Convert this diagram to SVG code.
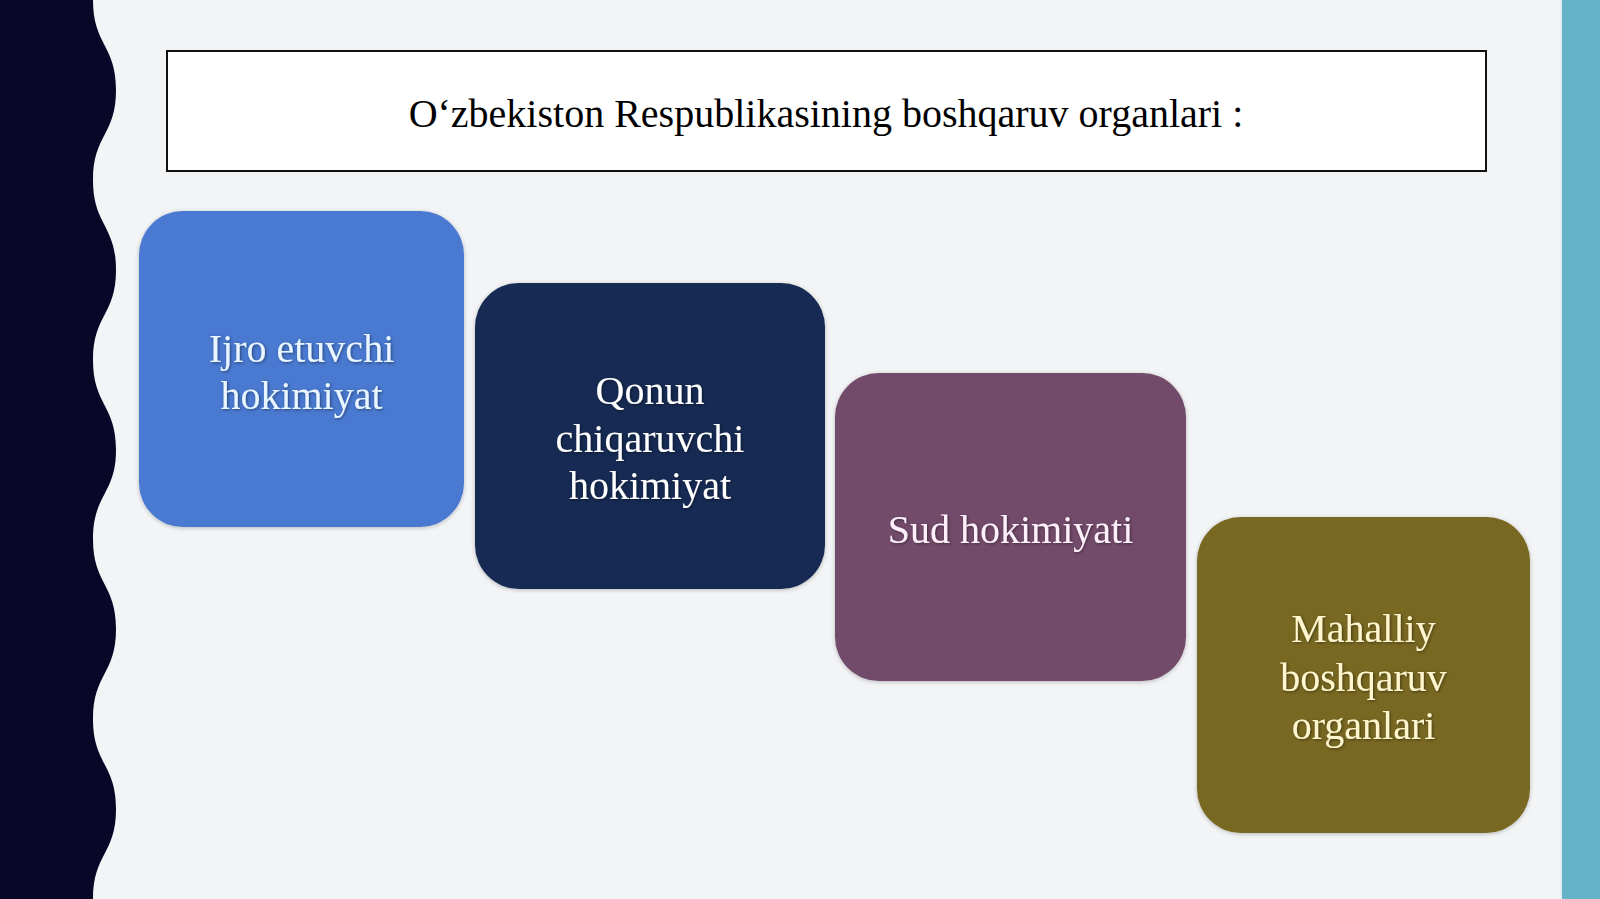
<svg xmlns="http://www.w3.org/2000/svg" width="1600" height="899" viewBox="0 0 1600 899">
<defs>
<style>
.lbl{font-family:"Liberation Serif","Times New Roman",serif;font-size:40px;text-anchor:middle}
.title{font-family:"Liberation Serif","Times New Roman",serif;font-size:40px;text-anchor:middle;fill:#000}
</style>
<filter id="sh" x="-10%" y="-10%" width="120%" height="120%">
<feGaussianBlur in="SourceAlpha" stdDeviation="2"/>
<feOffset dx="0" dy="1" result="b"/>
<feFlood flood-color="#000" flood-opacity="0.25"/>
<feComposite in2="b" operator="in"/>
<feMerge><feMergeNode/><feMergeNode in="SourceGraphic"/></feMerge>
</filter>
<filter id="tsh" x="-10%" y="-30%" width="120%" height="160%">
<feGaussianBlur in="SourceAlpha" stdDeviation="1.5"/>
<feOffset dx="1" dy="1" result="b"/>
<feFlood flood-color="#000" flood-opacity="0.45"/>
<feComposite in2="b" operator="in"/>
<feMerge><feMergeNode/><feMergeNode in="SourceGraphic"/></feMerge>
</filter>
</defs>
<rect x="0" y="0" width="1600" height="899" fill="#f3f4f6"/>
<path d="M0,0 L93,0 C93,45 116,45 116,90 C116,135 93,135 93,180 C93,225 116,225 116,270 C116,315 93,315 93,360 C93,405 116,405 116,450 C116,494 93,494 93,539 C93,584 116,584 116,629 C116,674 93,674 93,719 C93,764 116,764 116,809 C116,854 93,854 93,899 L0,899 Z" fill="#0a0628"/>
<rect x="1562" y="0" width="38" height="899" fill="#63b4c8"/>
<rect x="1560" y="0" width="2" height="899" fill="#e9eef4"/>
<g id="title">
<rect x="167" y="51" width="1319" height="120" fill="#ffffff" stroke="#111" stroke-width="2"/>
<text class="title" x="826" y="127">O‘zbekiston Respublikasining boshqaruv organlari :</text>
</g>
<g id="connectors"></g>
<g id="node-ijro">
<rect x="139" y="211" width="325" height="316" rx="44" fill="#4a79d0" filter="url(#sh)"/>
<text class="lbl" fill="#eaf6ff" filter="url(#tsh)"><tspan x="301.5" y="362">Ijro etuvchi</tspan><tspan x="301.5" y="409">hokimiyat</tspan></text>
</g>
<g id="node-qonun">
<rect x="475" y="283" width="350" height="306" rx="44" fill="#162a52" filter="url(#sh)"/>
<text class="lbl" fill="#ffffff" filter="url(#tsh)"><tspan x="650" y="404">Qonun</tspan><tspan x="650" y="452">chiqaruvchi</tspan><tspan x="650" y="499">hokimiyat</tspan></text>
</g>
<g id="node-sud">
<rect x="835" y="373" width="351" height="308" rx="44" fill="#734b6b" filter="url(#sh)"/>
<text class="lbl" fill="#fdf0fb" filter="url(#tsh)" x="1010.5" y="543">Sud hokimiyati</text>
</g>
<g id="node-mahalliy">
<rect x="1197" y="517" width="333" height="316" rx="44" fill="#786822" filter="url(#sh)"/>
<text class="lbl" fill="#fff6cf" filter="url(#tsh)"><tspan x="1363.5" y="642">Mahalliy</tspan><tspan x="1363.5" y="691">boshqaruv</tspan><tspan x="1363.5" y="739">organlari</tspan></text>
</g>
</svg>
